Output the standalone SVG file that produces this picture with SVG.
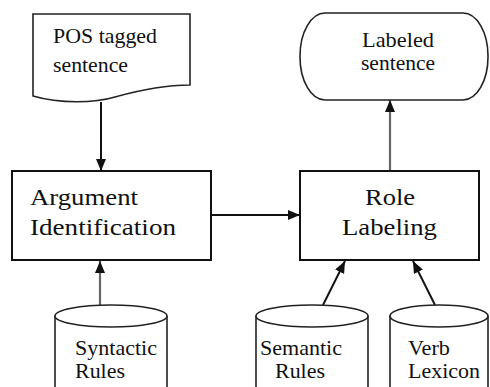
<svg xmlns="http://www.w3.org/2000/svg" width="490" height="387" viewBox="0 0 490 387">
<defs>
<style>
.shape{fill:#fff;stroke:#222;stroke-width:1.6}
.box{fill:#fff;stroke:#111;stroke-width:2}
.t{font-size:22px;fill:#111}
.big{font-size:24px;fill:#111}
.ln{fill:none;stroke:#111;stroke-width:2}
.gl{fill:none;stroke:#666;stroke-width:2.2}
</style>
<marker id="ah" viewBox="0 0 12 10" refX="12" refY="5" markerWidth="12" markerHeight="10" markerUnits="userSpaceOnUse" orient="auto">
<path d="M0,0 L12,5 L0,10 Z" fill="#111"/>
</marker>
</defs>
<rect width="490" height="387" fill="#fff"/>
<g id="connectors">
<line class="ln" x1="101" y1="102" x2="101" y2="171" marker-end="url(#ah)"/>
<line class="ln" x1="211" y1="215" x2="300" y2="215" marker-end="url(#ah)"/>
<line class="gl" x1="100" y1="305" x2="100" y2="261" marker-end="url(#ah)"/>
<line class="ln" x1="323" y1="305" x2="345" y2="261" marker-end="url(#ah)"/>
<line class="ln" x1="435" y1="305" x2="413" y2="261" marker-end="url(#ah)"/>
<line class="gl" x1="390" y1="171" x2="390" y2="100" marker-end="url(#ah)"/>
</g>
<g font-family="Liberation Serif, Times New Roman, Tinos, Noto Serif, FreeSerif, DejaVu Serif, serif">
<g id="pos">
<path class="shape" d="M33,14 H190 V85 C165,85 140,90 115,97 C95,103 60,104 33,96 Z"/>
<text class="t" x="53" y="43" textLength="104" lengthAdjust="spacingAndGlyphs">POS tagged</text>
<text class="t" x="53" y="72" textLength="75" lengthAdjust="spacingAndGlyphs">sentence</text>
</g>
<g id="labeled">
<rect class="shape" x="300" y="13" width="188" height="87" rx="25" ry="43"/>
<text class="t" x="398" y="47" text-anchor="middle" font-size="21" textLength="72" lengthAdjust="spacingAndGlyphs">Labeled</text>
<text class="t" x="398" y="70" text-anchor="middle" font-size="21" textLength="74" lengthAdjust="spacingAndGlyphs">sentence</text>
</g>
<g id="argument">
<rect class="box" x="12" y="171" width="199" height="89"/>
<text class="big" x="30" y="205" textLength="108" lengthAdjust="spacingAndGlyphs">Argument</text>
<text class="big" x="30" y="235" textLength="146" lengthAdjust="spacingAndGlyphs">Identification</text>
</g>
<g id="role">
<rect class="box" x="300" y="171" width="179" height="89"/>
<text class="big" x="365" y="205" textLength="50" lengthAdjust="spacingAndGlyphs">Role</text>
<text class="big" x="342" y="235" textLength="95" lengthAdjust="spacingAndGlyphs">Labeling</text>
</g>
<g id="syntactic">
<path class="shape" d="M55,316 V395 A56,11 0 0 0 167,395 V316"/>
<ellipse class="shape" cx="111" cy="316" rx="56" ry="11"/>
<text class="t" x="75" y="355" textLength="82" lengthAdjust="spacingAndGlyphs">Syntactic</text>
<text class="t" x="75" y="378" textLength="50" lengthAdjust="spacingAndGlyphs">Rules</text>
</g>
<g id="semantic">
<path class="shape" d="M256,316 V395 A56,11 0 0 0 368,395 V316"/>
<ellipse class="shape" cx="312" cy="316" rx="56" ry="11"/>
<text class="t" x="260" y="355" textLength="82" lengthAdjust="spacingAndGlyphs">Semantic</text>
<text class="t" x="275" y="378" textLength="50" lengthAdjust="spacingAndGlyphs">Rules</text>
</g>
<g id="verb">
<path class="shape" d="M390,316 V395 A49,11 0 0 0 488,395 V316"/>
<ellipse class="shape" cx="439" cy="316" rx="49" ry="11"/>
<text class="t" x="408" y="355" textLength="42" lengthAdjust="spacingAndGlyphs">Verb</text>
<text class="t" x="408" y="378" textLength="72" lengthAdjust="spacingAndGlyphs">Lexicon</text>
</g>
</g>
</svg>
